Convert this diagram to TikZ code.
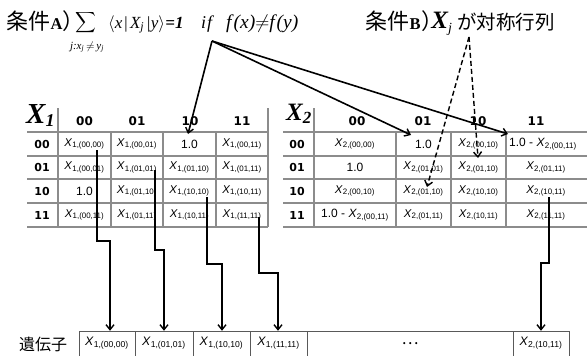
\RequirePackage{fix-cm}
\documentclass[tikz,border=0pt]{standalone}
\usepackage{amsmath}
\usepackage{fontspec}
\setmainfont{Liberation Sans}
\newfontfamily\cjk{Noto Sans CJK JP}
\newfontfamily\tms{Liberation Serif}
\newfontfamily\djv{DejaVu Sans}
\usetikzlibrary{arrows.meta,calc}
\newcommand\cX[2]{\textit{X}\textsubscript{#1,(#2)}}
\newcommand\oneX[1]{1.0 - \textit{X}\textsubscript{2,(#1)}}
\begin{document}
\begin{tikzpicture}[x=1pt,y=-1pt,
  gridl/.style={draw=black!45, line width=1.1pt},
  genel/.style={draw=black!65, line width=0.8pt},
  cellt/.style={inner sep=0pt, minimum width=50pt, minimum height=23pt, font=\fontsize{11.3}{12}\selectfont},
  onet/.style={inner sep=0pt, minimum width=50pt, minimum height=23pt, font=\fontsize{12}{13}\selectfont},
  hdr/.style={inner sep=0pt, font=\djv\bfseries\fontsize{12}{13}\selectfont},
  rhdr/.style={inner sep=0pt, font=\djv\bfseries\fontsize{11}{12}\selectfont},
  genet/.style={inner sep=0pt, minimum height=25pt, font=\fontsize{12.3}{13}\selectfont},
  txt/.style={inner sep=0pt},
  arr/.style={-{Straight Barb[length=5pt,width=8pt,line width=1.4pt]}, line width=1.6pt},
  darr/.style={arr, line width=1.4pt, dash pattern=on 5pt off 3pt}]
\useasboundingbox (0,0) rectangle (587,356);

% ---------- title texts ----------
\node[txt, anchor=base west] (cA) at (6,30) {\cjk\fontsize{22}{24}\selectfont 条件};
\node[txt, anchor=base west] (cAl) at (cA.base east) {\tms\bfseries\fontsize{16.5}{17}\selectfont A};
\node[txt, anchor=base west] (cAp) at (cAl.base east) {\cjk\fontsize{22}{24}\selectfont\makebox[11pt][l]{）}};
\node[txt] (sum) at (86,23) {\fontsize{14.5}{16}\selectfont$\displaystyle\sum$};
\node[txt] (sub) at (87,47) {\tms\itshape\fontsize{11}{12}\selectfont j:x\textsubscript{j}\,$\neq$\,y\textsubscript{j}};
\node[txt, anchor=base west] (brk) at (108,28) {\tms\itshape\fontsize{17}{19}\selectfont $\langle$x\kern1pt|\kern2pt X\textsubscript{j}\kern2pt|y$\rangle$};
\node[txt, anchor=base west] (eq) at (brk.base east) {\tms\bfseries\itshape\fontsize{17}{18}\selectfont =1};
\node[txt, anchor=base west] (if) at (201,28) {\tms\itshape\fontsize{18}{19}\selectfont i\kern1pt f};
\node[txt, anchor=base west] (fxy) at (226,28) {\tms\itshape\fontsize{19.5}{21}\selectfont f\kern2pt(x)$\neq$f\kern2pt(y)};

\node[txt, anchor=base west] (cB) at (365,30) {\cjk\fontsize{22}{24}\selectfont 条件};
\node[txt, anchor=base west] (cBl) at (cB.base east) {\tms\bfseries\fontsize{16.5}{17}\selectfont B};
\node[txt, anchor=base west] (cBp) at (cBl.base east) {\cjk\fontsize{22}{24}\selectfont\makebox[10pt][l]{）}};
\node[txt, anchor=base west] (xj) at ([yshift=2pt]cBp.base east) {\tms\bfseries\itshape\fontsize{25}{27}\selectfont X\raisebox{-4pt}{\mdseries\fontsize{14}{15}\selectfont j}};
\node[txt, anchor=base west] (sym) at (457,30) {\cjk\fontsize{19.5}{22}\selectfont が対称行列};

% ---------- table X1 ----------
\foreach \y in {132,156,179,203,227} \draw[gridl] (27,\y) -- (268,\y);
\draw[gridl] (58,108) -- (58,227);
\draw[gridl] (268,108) -- (268,227);
\foreach \x in {111,163,216} \draw[gridl] (\x,132) -- (\x,227);
\node[txt, anchor=base west] (X1) at (26,123) {\tms\bfseries\itshape\fontsize{29}{30}\selectfont X\raisebox{-3pt}{\fontsize{18}{20}\selectfont 1}};

\node[hdr] (h10) at (84.5,121) {00};
\node[hdr] (h11) at (137,121) {01};
\node[hdr] (h12) at (190,121) {10};
\node[hdr] (h13) at (242,121) {11};
\node[rhdr] (r10) at (42,144) {00};
\node[rhdr] (r11) at (42,167.5) {01};
\node[rhdr] (r12) at (42,191) {10};
\node[rhdr] (r13) at (42,215) {11};

\node[cellt] (a00) at (84.5,144) {\cX{1}{00,00}};
\node[cellt] (a01) at (137,144) {\cX{1}{00,01}};
\node[onet]  (a02) at (189.5,144) {1.0};
\node[cellt] (a03) at (242,144) {\cX{1}{00,11}};
\node[cellt] (a10) at (84.5,167.5) {\cX{1}{00,01}};
\node[cellt] (a11) at (137,167.5) {\cX{1}{01,01}};
\node[cellt] (a12) at (189.5,167.5) {\cX{1}{01,10}};
\node[cellt] (a13) at (242,167.5) {\cX{1}{01,11}};
\node[onet]  (a20) at (84.5,191) {1.0};
\node[cellt] (a21) at (137,191) {\cX{1}{01,10}};
\node[cellt] (a22) at (189.5,191) {\cX{1}{10,10}};
\node[cellt] (a23) at (242,191) {\cX{1}{10,11}};
\node[cellt] (a30) at (84.5,215) {\cX{1}{00,11}};
\node[cellt] (a31) at (137,215) {\cX{1}{01,11}};
\node[cellt] (a32) at (189.5,215) {\cX{1}{10,11}};
\node[cellt] (a33) at (242,215) {\cX{1}{11,11}};

% ---------- table X2 ----------
\foreach \y in {132,156,179,203,227} \draw[gridl] (283,\y) -- (587,\y);
\draw[gridl] (314,108) -- (314,227);
\foreach \x in {396,451,506} \draw[gridl] (\x,132) -- (\x,227);
\node[txt, anchor=base west] (X2) at (286,120) {\tms\bfseries\itshape\fontsize{25}{27}\selectfont X\raisebox{-3pt}{\fontsize{17}{19}\selectfont 2}};

\node[hdr] (h20) at (357,121) {00};
\node[hdr] (h21) at (423,121) {01};
\node[hdr] (h22) at (478,121) {10};
\node[hdr] (h23) at (536,121) {11};
\node[rhdr] (r20) at (297,144) {00};
\node[rhdr] (r21) at (297,167.5) {01};
\node[rhdr] (r22) at (297,191) {10};
\node[rhdr] (r23) at (297,215) {11};

\node[cellt] (b00) at (355,144) {\cX{2}{00,00}};
\node[onet]  (b01) at (423.5,144) {1.0};
\node[cellt] (b02) at (478.5,144) {\cX{2}{00,10}};
\node[onet]  (b03) at (543,144) {\oneX{00,11}};
\node[onet]  (b10) at (355,167.5) {1.0};
\node[cellt] (b11) at (423.5,167.5) {\cX{2}{01,01}};
\node[cellt] (b12) at (478.5,167.5) {\cX{2}{01,10}};
\node[cellt] (b13) at (546,167.5) {\cX{2}{01,11}};
\node[cellt] (b20) at (355,191) {\cX{2}{00,10}};
\node[cellt] (b21) at (423.5,191) {\cX{2}{01,10}};
\node[cellt] (b22) at (478.5,191) {\cX{2}{10,10}};
\node[cellt] (b23) at (546,191) {\cX{2}{10,11}};
\node[onet]  (b30) at (355,215) {\oneX{00,11}};
\node[cellt] (b31) at (423.5,215) {\cX{2}{01,11}};
\node[cellt] (b32) at (478.5,215) {\cX{2}{10,11}};
\node[cellt] (b33) at (546,215) {\cX{2}{11,11}};

% ---------- gene row ----------
\node[txt, anchor=base west] (gl) at (19,350) {\cjk\fontsize{16}{18}\selectfont 遺伝子};
\draw[genel] (79,356) |- (569,331) -- (569,356);
\foreach \x in {135,193,250,307,513} \draw[genel] (\x,331) -- (\x,356);
\node[genet] (g1) at (107,343.5) {\cX{1}{00,00}};
\node[genet] (g2) at (164,343.5) {\cX{1}{01,01}};
\node[genet] (g3) at (221.5,343.5) {\cX{1}{10,10}};
\node[genet] (g4) at (278.5,343.5) {\cX{1}{11,11}};
\node[genet] (gd) at (410,343.5) {\cjk\fontsize{16}{18}\selectfont …};
\node[genet] (g5) at (541,343.5) {\cX{2}{10,11}};

% ---------- down connectors ----------
\coordinate (s1) at ($(a00.center)+(12.5,6)$);
\coordinate (s2) at ($(a11.center)+(18,2.5)$);
\coordinate (s3) at ($(a22.center)+(17.5,6)$);
\coordinate (s4) at ($(a33.center)+(17,2)$);
\coordinate (s5) at ($(b23.center)+(3,6)$);
\coordinate (k1) at (110,241);
\coordinate (k2) at (164,250);
\coordinate (k3) at (222,264);
\coordinate (k4) at (278,273);
\coordinate (k5) at (541,263);
\draw[arr] (s1) |- (k1) -- (k1 |- g1.north);
\draw[arr] (s2) |- (k2) -- (k2 |- g2.north);
\draw[arr] (s3) |- (k3) -- (k3 |- g3.north);
\draw[arr] (s4) |- (k4) -- (k4 |- g4.north);
\draw[arr] (s5) |- (k5) -- (k5 |- g5.north);

% ---------- condition connectors ----------
\coordinate (pA) at (212,41);
\draw[arr] (pA) -- ($(a02.center)+(-1.5,-10)$);
\draw[arr] (pA) -- ($(b01.center)+(-12.5,-9)$);
\draw[arr] (pA) -- ($(b03.center)+(-35,-10)$);
\coordinate (pB) at (469,37);
\draw[darr] (pB) -- ($(b21.center)+(3.5,-4)$);
\draw[darr] (pB) -- ($(b12.center)+(-0.5,-9.5)$);
\end{tikzpicture}
\end{document}
